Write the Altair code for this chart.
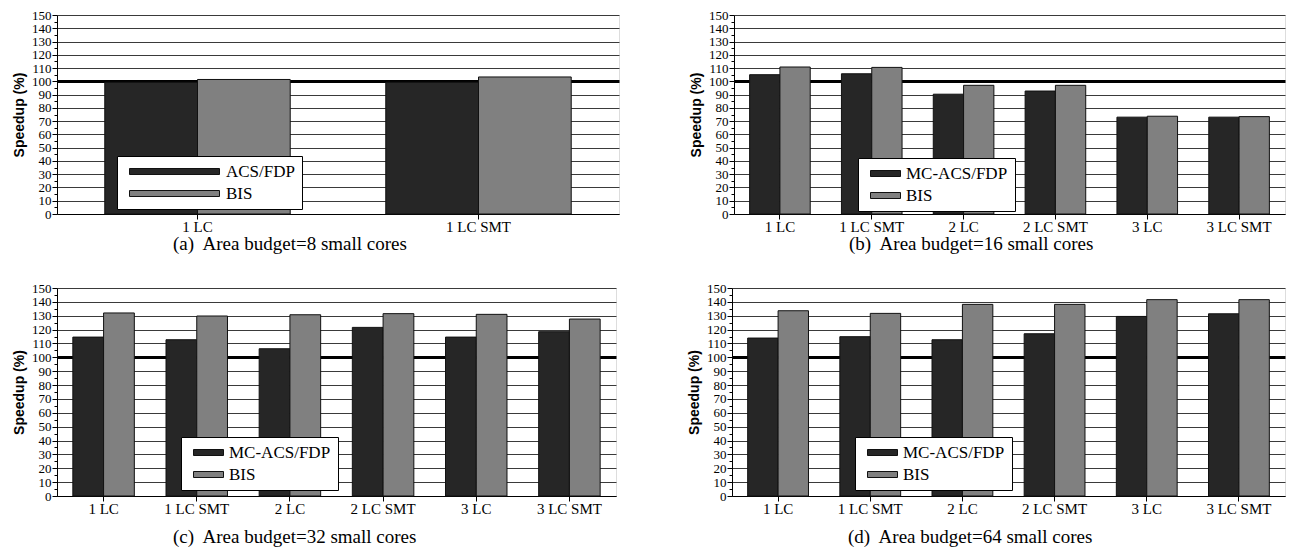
import altair as alt
import pandas as pd

# ---- data ----
cats_a = ["1 LC", "1 LC SMT"]
cats = ["1 LC", "1 LC SMT", "2 LC", "2 LC SMT", "3 LC", "3 LC SMT"]

a_acs = [99.3, 99.3]
a_bis = [101.4, 103.3]

b_acs = [105.0, 105.7, 90.3, 92.7, 73.0, 73.0]
b_bis = [110.8, 110.5, 97.0, 97.0, 73.7, 73.4]

c_acs = [114.6, 112.7, 106.2, 121.6, 114.6, 118.5]
c_bis = [132.0, 129.8, 130.7, 131.5, 131.0, 127.6]

d_acs = [113.9, 114.9, 112.7, 117.0, 129.5, 131.4]
d_bis = [133.6, 131.7, 138.2, 138.2, 141.6, 141.6]

y_ticks = list(range(0, 151, 5))

SERIF = "Liberation Serif"
SANS = "Liberation Sans"
is10 = "datum.value % 10 === 0"
is100 = "datum.value === 100"


def panel(categories, acs, bis, acs_name, caption, width, height, lx, ly,
          sym_units, lab_off, cap_dx, cap_off):
    n = len(categories)
    df = pd.DataFrame({
        "cat": categories * 2,
        "series": [acs_name] * n + ["BIS"] * n,
        "val": acs + bis,
    })
    order = [acs_name, "BIS"]
    sym_path = f"M-1,-1H{sym_units}V1H-1Z"
    return alt.Chart(df).mark_bar(stroke="#111111", strokeWidth=1).encode(
        x=alt.X("cat:N", sort=categories,
                scale=alt.Scale(paddingInner=0.34, paddingOuter=0.17),
                axis=alt.Axis(title=None, labelAngle=0, labelFont=SERIF, labelFontSize=15,
                              labelColor="black", tickSize=5, tickColor="black",
                              domainColor="black", grid=False, labelPadding=0)),
        xOffset=alt.XOffset("series:N", sort=order,
                            scale=alt.Scale(domain=order, paddingInner=0, paddingOuter=0)),
        y=alt.Y("val:Q", scale=alt.Scale(domain=[0, 150], nice=False),
                axis=alt.Axis(values=y_ticks,
                              labelExpr=f"{is10} ? datum.label : ''",
                              tickSize={"condition": {"test": is10, "value": 5}, "value": 3},
                              gridOpacity={"condition": {"test": is10, "value": 1}, "value": 0},
                              gridWidth={"condition": {"test": is100, "value": 3}, "value": 1},
                              gridColor={"condition": {"test": is100, "value": "black"}, "value": "#3a3a3a"},
                              domainColor="black", tickColor="black",
                              labelFont=SERIF, labelFontSize=13, labelColor="black", labelPadding=1,
                              title="Speedup (%)", titleFont=SANS, titleFontSize=14,
                              titleFontWeight="bold", titleColor="black", titlePadding=5)),
        color=alt.Color("series:N", sort=order,
                        scale=alt.Scale(domain=order, range=["#262626", "#808080"]),
                        legend=alt.Legend(orient="none", legendX=lx, legendY=ly, title=None,
                                          direction="vertical",
                                          symbolType=sym_path, symbolSize=36,
                                          symbolStrokeColor="#111111", symbolStrokeWidth=1,
                                          labelOffset=lab_off, labelFont=SERIF, labelFontSize=17,
                                          labelColor="black", rowPadding=4, padding=7,
                                          fillColor="white", strokeColor="black")),
    ).properties(
        width=width, height=height,
        title=alt.TitleParams(text=caption, orient="bottom", anchor="start", frame="group",
                              dx=cap_dx, font=SERIF, fontSize=19, fontWeight="normal",
                              color="black", offset=cap_off),
    )


pa = panel(cats_a, a_acs, a_bis, "ACS/FDP", "(a)\u00a0 Area budget=8 small cores",
           562, 199, 60, 141, 29, 85, 116, 1)
pb = panel(cats, b_acs, b_bis, "MC-ACS/FDP", "(b)\u00a0 Area budget=16 small cores",
           551, 199, 124, 143, 9, 24, 115, 1)
pc = panel(cats, c_acs, c_bis, "MC-ACS/FDP", "(c)\u00a0 Area budget=32 small cores",
           559, 208, 124, 149, 9, 24, 116, 12)
pd_ = panel(cats, d_acs, d_bis, "MC-ACS/FDP", "(d)\u00a0 Area budget=64 small cores",
            553, 208, 123, 149, 9, 24, 116, 12)

indep = dict(x="independent", y="independent", color="independent", xOffset="independent")

row1 = alt.hconcat(pa, pb, spacing=69).resolve_scale(**indep).resolve_legend(color="independent")
row2 = alt.hconcat(pc, pd_, spacing=70).resolve_scale(**indep).resolve_legend(color="independent")

chart = alt.vconcat(row1, row2, spacing=26).resolve_scale(**indep).resolve_legend(
    color="independent"
).properties(
    padding={"top": 0, "left": 4, "right": 0, "bottom": 0}
).configure_view(stroke=None).configure(background="white")

chart.save("out.html", embed_options={"renderer": "svg", "actions": False})
